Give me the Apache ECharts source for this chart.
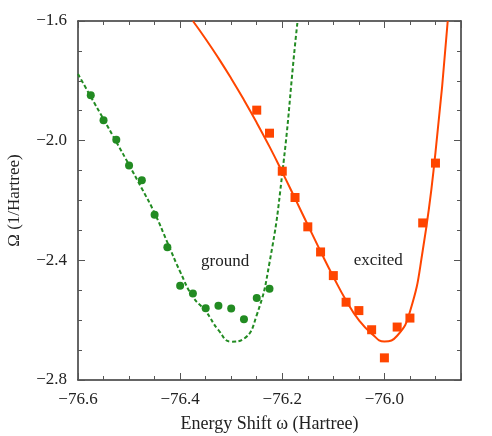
<!DOCTYPE html>
<html>
<head>
<meta charset="utf-8">
<script src="https://cdn.jsdelivr.net/npm/echarts@6/dist/echarts.min.js"></script>
<style>
  html, body { margin: 0; padding: 0; background: #fff; }
  #chart { width: 492px; height: 436px; }
</style>
</head>
<body>
<div id="chart"></div>
<script>
// measured points
var groundX = [-76.575, -76.55, -76.525, -76.5, -76.475, -76.45, -76.425, -76.4, -76.375, -76.35, -76.325, -76.3, -76.275, -76.25, -76.225];
var groundY = [-1.848, -1.932, -1.997, -2.083, -2.132, -2.248, -2.356, -2.485, -2.511, -2.560, -2.552, -2.561, -2.597, -2.526, -2.495];
var excitedX = [-76.25, -76.225, -76.2, -76.175, -76.15, -76.125, -76.1, -76.075, -76.05, -76.025, -76.0, -75.975, -75.95, -75.925, -75.9];
var excitedY = [-1.898, -1.975, -2.102, -2.190, -2.288, -2.372, -2.451, -2.540, -2.568, -2.632, -2.726, -2.623, -2.593, -2.275, -2.075];

// fitted curves
var groundFitX = [-76.6, -76.575, -76.55, -76.525, -76.5, -76.475, -76.45, -76.425, -76.4, -76.375, -76.35, -76.325, -76.3, -76.275, -76.25, -76.225, -76.2, -76.175, -76.17];
var groundFitY = [-1.777, -1.853, -1.928, -2.004, -2.081, -2.160, -2.242, -2.340, -2.438, -2.522, -2.570, -2.633, -2.672, -2.662, -2.583, -2.408, -2.110, -1.680, -1.600];
var excitedFitX = [-76.375, -76.35, -76.325, -76.3, -76.275, -76.25, -76.225, -76.2, -76.175, -76.15, -76.125, -76.1, -76.075, -76.05, -76.025, -76.0, -75.975, -75.95, -75.925, -75.9, -75.876];
var excitedFitY = [-1.600, -1.660, -1.724, -1.792, -1.864, -1.940, -2.020, -2.105, -2.193, -2.282, -2.370, -2.455, -2.534, -2.600, -2.645, -2.671, -2.652, -2.572, -2.368, -2.040, -1.600];

var labels = [
  { text: 'ground', x: -76.312, y: -2.405 },
  { text: 'excited', x: -76.012, y: -2.401 }
];

var xRange = [-76.6, -75.85];
var yRange = [-2.8, -1.6];

function zip(xs, ys) {
  return xs.map(function (x, i) { return [x, ys[i]]; });
}
function fmt(v) {
  return v.toFixed(1).replace('-', '\u2212');
}

var green = '#228B22', orange = '#FF4500';
var serif = '"Liberation Serif", "DejaVu Serif", serif';
var tickColor = '#555';

function axis(dim, pos, major, showLabel) {
  var range = dim === 'x' ? xRange : yRange;
  var step = dim === 'x' ? (major ? 0.2 : 0.05) : (major ? 0.4 : 0.1);
  var a = {
    type: 'value',
    position: pos,
    min: range[0],
    max: range[1],
    interval: step,
    splitLine: { show: false },
    axisLine: { show: major, onZero: false, lineStyle: { color: '#333', width: 1.5 } },
    axisTick: { show: true, inside: true, length: major ? 7 : 4, lineStyle: { color: tickColor, width: 1 } },
    axisLabel: { show: false }
  };
  if (showLabel) {
    a.axisLabel = {
      show: true,
      margin: 11,
      color: '#222',
      fontFamily: serif,
      fontSize: 17,
      formatter: function (v) {
        var k = Math.round((v - range[0]) / step);
        if (Math.abs(range[0] + k * step - v) > 1e-6) return '';
        return fmt(v);
      }
    };
    a.nameLocation = 'middle';
    if (dim === 'x') {
      a.name = 'Energy Shift \u03c9 (Hartree)';
      a.nameGap = 35;
      a.nameTextStyle = { fontFamily: serif, fontSize: 18, color: '#222' };
    } else {
      a.name = '\u03a9 (1/Hartree)';
      a.nameGap = 55;
      a.nameTextStyle = { fontFamily: serif, fontSize: 17, color: '#222' };
    }
  }
  return a;
}

var chart = echarts.init(document.getElementById('chart'), null, { renderer: 'canvas' });
chart.setOption({
  animation: false,
  backgroundColor: '#fff',
  grid: { left: 78, top: 21, right: 31, bottom: 56, outerBoundsMode: 'none', containLabel: false },
  xAxis: [
    axis('x', 'bottom', true, true),
    axis('x', 'bottom', false, false),
    axis('x', 'top', true, false),
    axis('x', 'top', false, false)
  ],
  yAxis: [
    axis('y', 'left', true, true),
    axis('y', 'left', false, false),
    axis('y', 'right', true, false),
    axis('y', 'right', false, false)
  ],
  series: [
    {
      type: 'line', data: zip(groundFitX, groundFitY), showSymbol: false,
      smooth: 0.5, z: 2,
      lineStyle: { color: green, width: 2, type: [4, 2.5] }
    },
    {
      type: 'line', data: zip(excitedFitX, excitedFitY), showSymbol: false,
      smooth: 0.5, z: 2,
      lineStyle: { color: orange, width: 2 }
    },
    {
      type: 'scatter', data: zip(groundX, groundY), symbol: 'circle', symbolSize: 8, z: 3,
      itemStyle: { color: green, opacity: 1 }
    },
    {
      type: 'scatter', data: zip(excitedX, excitedY), symbol: 'rect', symbolSize: 9, z: 3,
      itemStyle: { color: orange, opacity: 1 }
    }
  ]
});

chart.setOption({
  graphic: labels.map(function (l) {
    var p = chart.convertToPixel({ xAxisIndex: 0, yAxisIndex: 0 }, [l.x, l.y]);
    return {
      type: 'text', x: p[0], y: p[1], z: 10,
      style: { text: l.text, font: '17px ' + serif, fill: '#222', align: 'center', verticalAlign: 'middle' }
    };
  })
});

window.onresize = function () { chart.resize(); };
</script>
</body>
</html>
